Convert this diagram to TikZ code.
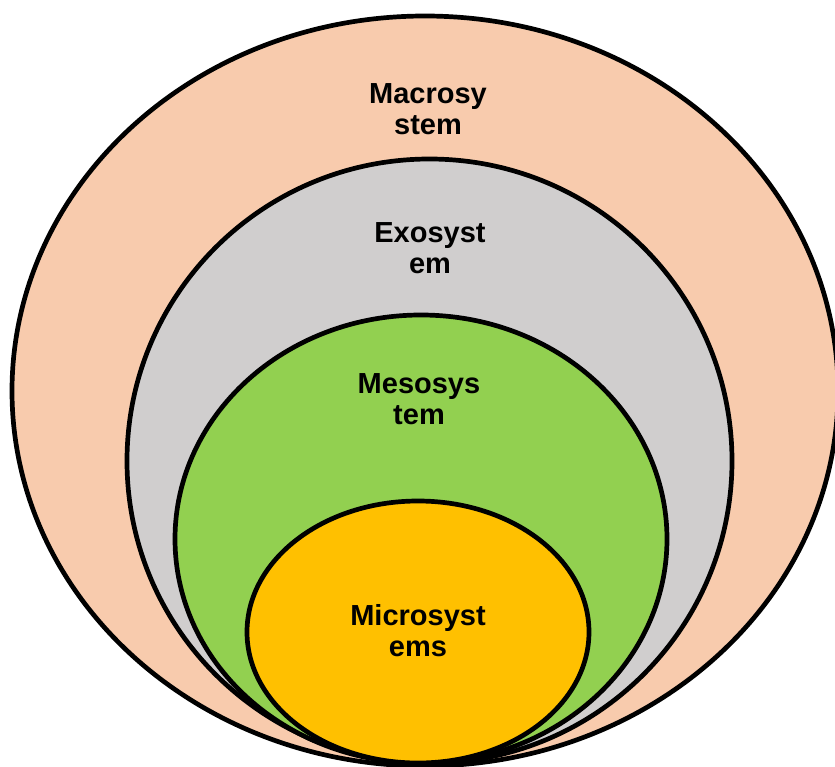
\documentclass[tikz,border=0pt]{standalone}
\usepackage{fontspec}
\setmainfont{Liberation Sans}
\usetikzlibrary{shapes.geometric}
\definecolor{macroc}{HTML}{F8CBAD}
\definecolor{exoc}{HTML}{D0CECE}
\definecolor{mesoc}{HTML}{92D050}
\definecolor{microc}{HTML}{FFC000}
\begin{document}
\begin{tikzpicture}[x=1pt,y=-1pt,
  sysring/.style={ellipse, draw=black, line width=4.7pt, inner sep=0pt},
  syslabel/.style={align=center, font=\fontsize{29}{31}\selectfont\bfseries, inner sep=0pt}]
  \useasboundingbox (0,0) rectangle (835,767);
  \clip (0,0) rectangle (835,767);
  % nested systems, all meeting near the bottom
  \node[sysring, fill=macroc, minimum width=826pt, minimum height=750pt] (macro) at (425,391) {};
  \node[sysring, fill=exoc, minimum width=605pt, minimum height=604pt] (exo) at (429.5,461) {};
  \node[sysring, fill=mesoc, minimum width=492pt, minimum height=448pt] (meso) at (421,539) {};
  \node[sysring, fill=microc, minimum width=342pt, minimum height=262pt] (micro) at (418,632) {};
  % labels
  \node[syslabel] (macrot) at (428,109) {Macrosy\\stem};
  \node[syslabel] (exot) at (430,248) {Exosyst\\em};
  \node[syslabel] (mesot) at (419,399) {Mesosys\\tem};
  \node[syslabel] (microt) at (418,631) {Microsyst\\ems};
\end{tikzpicture}
\end{document}
